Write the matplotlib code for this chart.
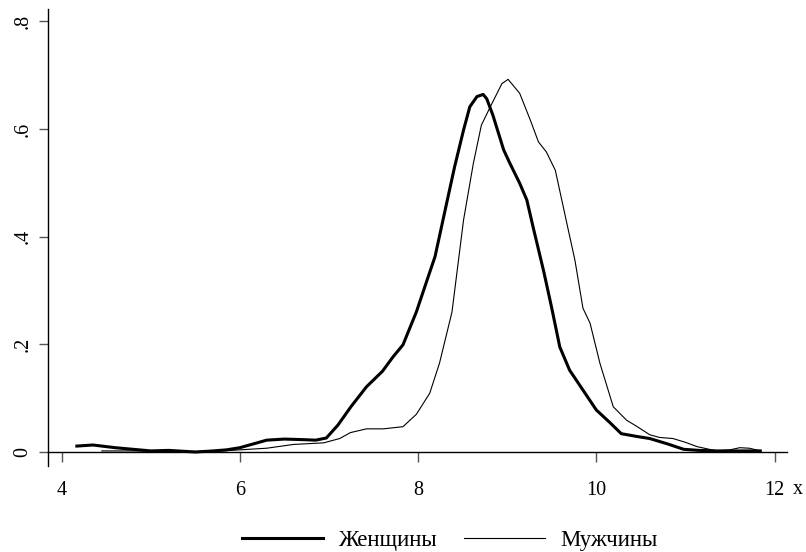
import matplotlib
matplotlib.use("Agg")
import matplotlib.pyplot as plt

plt.rcParams['font.family'] = ['Liberation Serif', 'DejaVu Serif']

# Women (thick line)
women_x = [4.17, 4.35, 4.5, 4.6, 4.8, 5.0, 5.2, 5.5, 5.7, 5.85, 6.0, 6.15, 6.3, 6.5, 6.7, 6.85, 6.97,
           7.1, 7.25, 7.42, 7.6, 7.72, 7.83, 7.98, 8.1, 8.19, 8.32, 8.41, 8.51, 8.58, 8.66, 8.73, 8.77,
           8.84, 8.96, 9.03, 9.14, 9.22, 9.29, 9.41, 9.5, 9.59, 9.7, 9.85, 10.0, 10.15, 10.28, 10.45,
           10.6, 10.8, 10.98, 11.15, 11.35, 11.6, 11.84]
women_y = [0.011, 0.013, 0.010, 0.008, 0.005, 0.002, 0.003, 0.000, 0.002, 0.004, 0.008, 0.015, 0.022,
           0.024, 0.023, 0.022, 0.026, 0.050, 0.085, 0.121, 0.150, 0.177, 0.199, 0.260, 0.319, 0.363,
           0.462, 0.530, 0.598, 0.641, 0.660, 0.664, 0.656, 0.625, 0.561, 0.536, 0.499, 0.468, 0.418,
           0.335, 0.267, 0.195, 0.152, 0.115, 0.078, 0.055, 0.034, 0.029, 0.025, 0.015, 0.005, 0.003,
           0.002, 0.002, 0.002]

# Men (thin line)
men_x = [4.45, 4.8, 5.2, 5.5, 5.8, 6.0, 6.3, 6.6, 6.94, 7.12, 7.24, 7.42, 7.61, 7.83, 7.98, 8.13,
         8.24, 8.38, 8.51, 8.62, 8.71, 8.81, 8.94, 9.01, 9.14, 9.26, 9.35, 9.44, 9.54, 9.67, 9.76,
         9.85, 9.93, 10.04, 10.19, 10.34, 10.45, 10.6, 10.71, 10.86, 11.0, 11.13, 11.35, 11.5, 11.61,
         11.72, 11.84]
men_y = [0.002, 0.002, 0.001, 0.001, 0.002, 0.004, 0.007, 0.014, 0.017, 0.025, 0.036, 0.043, 0.043,
         0.047, 0.070, 0.109, 0.165, 0.260, 0.431, 0.536, 0.607, 0.641, 0.684, 0.692, 0.666, 0.616,
         0.576, 0.557, 0.523, 0.424, 0.356, 0.267, 0.239, 0.165, 0.084, 0.059, 0.048, 0.032, 0.027,
         0.025, 0.018, 0.010, 0.002, 0.004, 0.008, 0.007, 0.002]

xticks = [4, 6, 8, 10, 12]
xtick_labels = ['4', '6', '8', '10', '12']
yticks = [0, 0.2, 0.4, 0.6, 0.8]
ytick_labels = ['0', '.2', '.4', '.6', '.8']
labels = ['Женщины', 'Мужчины']

fig = plt.figure(figsize=(8.06, 5.52), dpi=100)
ax = fig.add_axes([48 / 806, 1 - 466 / 552, (787 - 48) / 806, (466 - 8.8) / 552])

l1, = ax.plot(women_x, women_y, color='black', lw=2.2, solid_joinstyle='round')
l2, = ax.plot(men_x, men_y, color='black', lw=0.8, solid_joinstyle='round')

ax.set_xlim(3.846, 12.14)
ax.set_ylim(-0.026, 0.823)

for s in ['top', 'right']:
    ax.spines[s].set_visible(False)
ax.spines['bottom'].set_position(('data', 0))
ax.spines['left'].set_linewidth(1.0)
ax.spines['bottom'].set_linewidth(1.0)

ax.set_xticks(xticks)
ax.set_xticklabels(xtick_labels, fontsize=14.5)
ax.set_yticks(yticks)
ax.set_yticklabels(ytick_labels, fontsize=14.5, rotation=90, va='center')
ax.tick_params(axis='x', direction='out', length=7.2, pad=14, width=1.0, color='#555555')
ax.tick_params(axis='y', direction='out', length=6.5, pad=4.5, width=1.0, color='#555555')

fig.text(798 / 806, 1 - 490 / 552, 'x', fontsize=14.5, ha='center', va='center')

fig.legend([l1, l2], labels, loc='center', bbox_to_anchor=(449.5 / 806, 1 - 540 / 552),
           ncol=2, frameon=False, fontsize=16.5, handlelength=3.55, handletextpad=0.66,
           columnspacing=1.18, borderpad=0, borderaxespad=0)

fig.savefig('out.png', dpi=100)
